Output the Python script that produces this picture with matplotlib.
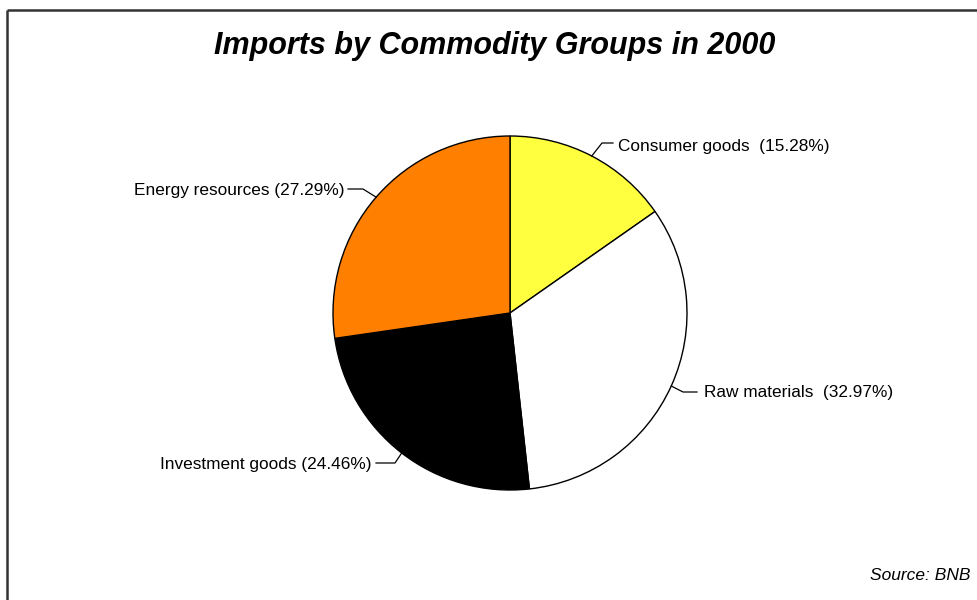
import matplotlib
matplotlib.use("Agg")
import matplotlib.pyplot as plt
import numpy as np

categories = ["Consumer goods", "Raw materials", "Investment goods", "Energy resources"]
shares = [15.28, 32.97, 24.46, 27.29]
colors = ["#FFFF40", "#FFFFFF", "#000000", "#FF8000"]
label_texts = ["Consumer goods  (15.28%)", "Raw materials  (32.97%)",
               "Investment goods (24.46%)", "Energy resources (27.29%)"]

plt.rcParams['font.family'] = ['Liberation Sans', 'DejaVu Sans']

W, H = 978, 600
fig = plt.figure(figsize=(W / 100, H / 100), dpi=100)
ax = fig.add_axes([0, 0, 1, 1])

cx, cy, R = 510, H - 313, 177
wedges, _ = ax.pie(shares, colors=colors, startangle=90, counterclock=False,
                   center=(cx, cy), radius=R, frame=True,
                   wedgeprops=dict(edgecolor="black", linewidth=1.0))
ax.set_xlim(0, W)
ax.set_ylim(0, H)
ax.set_aspect('auto')
ax.axis('off')

elbows = [((602, 143), (613, 143), 'left', 618, 146),
          ((683, 392), (697, 392), 'left', 704, 393),
          ((395, 463), (376, 463), 'right', 372, 465),
          ((363, 189), (348, 189), 'right', 344, 190)]

cum = 0
for val, (e1, e2, ha, tx, ty), txt in zip(shares, elbows, label_texts):
    mid = 90 - (cum + val / 2) * 3.6
    cum += val
    a = np.deg2rad(mid)
    px, py = cx + R * np.cos(a), cy + R * np.sin(a)
    ax.plot([px, e1[0], e2[0]], [py, H - e1[1], H - e2[1]], color="black", lw=0.9)
    ax.text(tx, H - ty, txt, ha=ha, va='center', fontsize=12.4)

ax.text(495, H - 46, "Imports by Commodity Groups in 2000", ha='center', va='center',
        fontsize=22, fontweight='bold', fontstyle='italic')
ax.text(970, H - 576, "Source: BNB", ha='right', va='center', fontsize=12.5, fontstyle='italic')

ax.plot([7, 7], [0, H - 10], color="#333333", lw=1.8, solid_capstyle='butt')
ax.plot([7, W], [H - 10, H - 10], color="#333333", lw=1.8, solid_capstyle='butt')

fig.savefig("out.png", dpi=100)
